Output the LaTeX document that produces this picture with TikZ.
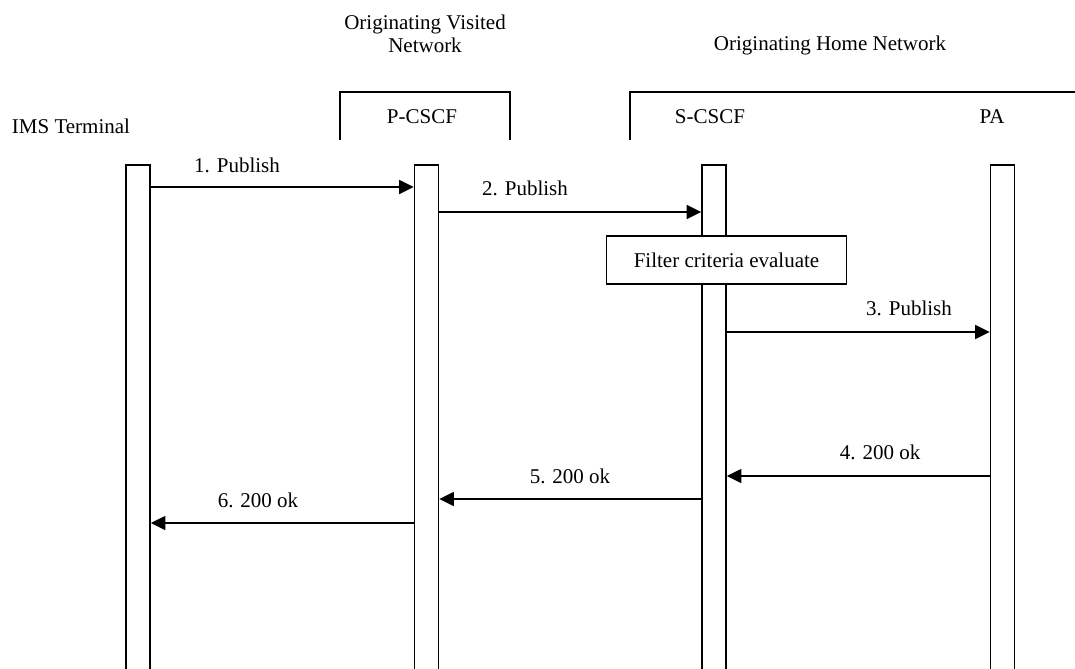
\documentclass[tikz,border=0pt]{standalone}
\usepackage{fontspec}
\setmainfont{Liberation Serif}
\usetikzlibrary{arrows.meta}
\begin{document}
\begin{tikzpicture}[x=0.75pt,y=-0.75pt,
  every node/.style={font=\fontsize{15.75}{17.25}\selectfont},
  lifeline/.style={draw, line width=1.1pt, fill=white, minimum width=18pt,
    minimum height=381pt, inner sep=0pt},
  proc/.style={draw, line width=1.1pt, fill=white, minimum width=180pt,
    minimum height=36pt, inner sep=0pt},
  frame/.style={line width=1.1pt},
  msg/.style={draw, line width=1.1pt, -{Triangle[length=11pt,width=10.5pt]}},
  lbl/.style={inner sep=0pt}]
\useasboundingbox (0,0) rectangle (1075,668);

% network domains
\draw[frame] (340,140) -- (340,92) -- (510,92) -- (510,140);
\draw[frame] (630,140) -- (630,92) -- (1080,92);
\node[align=center] (visited) at (425,34) {Originating Visited\\Network};
\node (home) at (830,45) {Originating Home Network};

% entity names
\node (imsname) at (71,126) {IMS Terminal};
\node (pname) at (422,117) {P-CSCF};
\node (sname) at (710,117) {S-CSCF};
\node (paname) at (992,117) {PA};

% lifelines (run off the bottom edge)
\node[lifeline] (ims) at (138,419) {};
\node[lifeline] (pcscf) at (426.5,419) {};
\node[lifeline] (scscf) at (714,419) {};
\node[lifeline] (pa) at (1002.5,419) {};

% local processing at the S-CSCF
\node[proc] (filter) at (726.5,260) {Filter criteria evaluate};

% message rows
\coordinate (m1) at (0,187);
\coordinate (m2) at (0,212);
\coordinate (m3) at (0,332);
\coordinate (m4) at (0,476);
\coordinate (m5) at (0,499);
\coordinate (m6) at (0,523);

\draw[msg] (ims.east |- m1) -- (pcscf.west |- m1);
\draw[msg] (pcscf.east |- m2) -- (scscf.west |- m2);
\draw[msg] (scscf.east |- m3) -- (pa.west |- m3);
\draw[msg] (pa.west |- m4) -- (scscf.east |- m4);
\draw[msg] (scscf.west |- m5) -- (pcscf.east |- m5);
\draw[msg] (pcscf.west |- m6) -- (ims.east |- m6);

\node[lbl] (l1) at (237,165) {1. Publish};
\node[lbl] (l2) at (525,188) {2. Publish};
\node[lbl] (l3) at (909,308) {3. Publish};
\node[lbl] (l4) at (880,452) {4. 200 ok};
\node[lbl] (l5) at (570,476) {5. 200 ok};
\node[lbl] (l6) at (258,500) {6. 200 ok};
\end{tikzpicture}
\end{document}
